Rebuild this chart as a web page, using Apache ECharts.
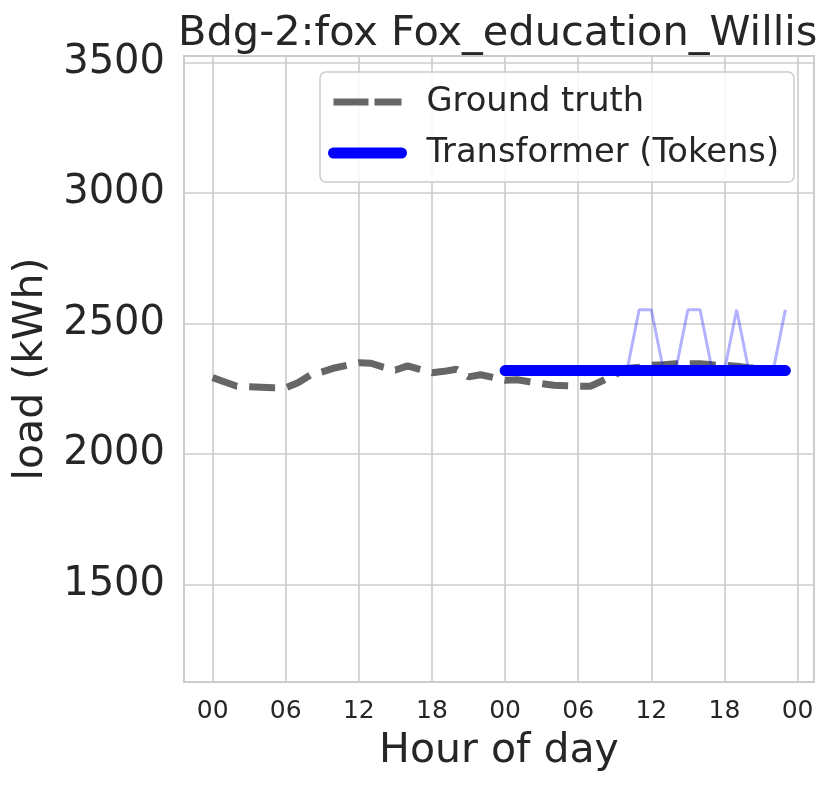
<!DOCTYPE html>
<html>
<head>
<meta charset="utf-8">
<script src="https://cdn.jsdelivr.net/npm/echarts@6/dist/echarts.min.js"></script>
<style>
    html, body { margin: 0; padding: 0; background: #fff; }
    #chart { width: 831px; height: 786px; }
</style>
</head>
<body>
<div id="chart"></div>
<script>
// hours since the start of the 2-day window
const hours = [
    0, 1, 2, 3, 4, 5, 6, 7, 8, 9, 10, 11, 12, 13, 14, 15, 16, 17, 18, 19, 20, 21, 22, 23,
    24, 25, 26, 27, 28, 29, 30, 31, 32, 33, 34, 35, 36, 37, 38, 39, 40, 41, 42, 43, 44, 45, 46, 47
]
const groundTruth = [
    2293, 2276, 2260, 2258, 2256, 2254, 2254, 2273, 2302, 2315, 2330, 2340,
    2350, 2348, 2333, 2322, 2338, 2325, 2312, 2317, 2325, 2296, 2304, 2294,
    2283, 2285, 2277, 2270, 2264, 2262, 2260, 2260, 2281, 2304, 2328, 2333,
    2340, 2342, 2346, 2346, 2346, 2342, 2340, 2337, 2331, 2327, 2321, 2320
]
// forecast covers the second day only
const forecastHours = hours.slice(24)
const transformerTokens = [
    2320, 2320, 2320, 2320, 2320, 2320, 2320, 2320, 2320, 2320, 2320, 2320,
    2320, 2320, 2320, 2320, 2320, 2320, 2320, 2320, 2320, 2320, 2320, 2320
]
const tokenSample = [
    2320, 2320, 2320, 2320, 2320, 2320, 2320, 2320, 2320, 2320, 2320, 2553,
    2553, 2320, 2320, 2553, 2553, 2320, 2320, 2553, 2320, 2320, 2320, 2553
]
const xTicks = [0, 6, 12, 18, 24, 30, 36, 42, 48]
const yTicks = [1500, 2000, 2500, 3000, 3500]

const pairs = (xs, ys) => xs.map((x, i) => [x, ys[i]])
const font = 'DejaVu Sans'
const ink = '#262626'
const gridGray = '#cccccc'
const gtColor = '#666666'
const tokColor = '#0000ff'

const chart = echarts.init(document.getElementById('chart'))

chart.setOption({
    animation: false,
    title: {
        text: 'Bdg-2:fox Fox_education_Willis',
        left: 173,
        top: 8,
        textStyle: { fontFamily: font, fontSize: 41.5, fontWeight: 'normal', color: ink }
    },
    legend: {
        orient: 'vertical',
        left: 320,
        top: 72,
        padding: [12, 15, 11, 8],
        itemWidth: 68,
        itemHeight: 14,
        itemGap: 15,
        backgroundColor: 'rgba(255,255,255,0.85)',
        borderColor: gridGray,
        borderWidth: 1.5,
        borderRadius: 6,
        itemStyle: { opacity: 0 },
        textStyle: {
            fontFamily: font,
            fontSize: 33.7,
            color: ink,
            lineHeight: 36,
            padding: [0, 0, 0, 20]
        },
        data: [
            {
                name: 'Ground truth',
                itemStyle: { opacity: 0 },
                lineStyle: { color: gtColor, width: 7, type: [35, 6], cap: 'butt', opacity: 1 }
            },
            {
                name: 'Transformer (Tokens)',
                itemStyle: { opacity: 0 },
                lineStyle: { color: tokColor, width: 11, cap: 'round', opacity: 1 }
            }
        ]
    },
    grid: {
        left: 184,
        top: 56,
        width: 630,
        height: 626,
        outerBoundsMode: 'none',
        containLabel: false,
        show: true,
        borderColor: gridGray,
        borderWidth: 2,
        backgroundColor: '#fff'
    },
    xAxis: {
        type: 'value',
        min: -2.35,
        max: 49.35,
        name: 'Hour of day',
        nameLocation: 'middle',
        nameGap: 49,
        nameTextStyle: { fontFamily: font, fontSize: 41, color: ink },
        axisLine: { show: false },
        axisTick: { show: false, customValues: xTicks },
        axisLabel: {
            customValues: xTicks,
            margin: 17,
            fontFamily: font,
            fontSize: 25,
            color: ink,
            formatter: v => String(v % 24).padStart(2, '0')
        },
        splitLine: { show: true, lineStyle: { color: gridGray, width: 1.6 } }
    },
    yAxis: {
        type: 'value',
        min: 1127,
        max: 3525,
        name: 'load (kWh)',
        nameLocation: 'middle',
        nameGap: 132,
        nameTextStyle: { fontFamily: font, fontSize: 41, color: ink },
        axisLine: { show: false },
        axisTick: { show: false, customValues: yTicks },
        axisLabel: {
            customValues: yTicks,
            margin: 19,
            fontFamily: font,
            fontSize: 40,
            color: ink,
            padding: [4, 0, 0, 0],
            formatter: v => String(v)
        },
        splitLine: { show: true, lineStyle: { color: gridGray, width: 1.6 } }
    },
    series: [
        {
            name: 'Ground truth',
            type: 'line',
            data: pairs(hours, groundTruth),
            symbol: 'none',
            color: gtColor,
            lineStyle: { width: 7, type: [26, 12], cap: 'butt' }
        },
        {
            name: 'Token sample',
            type: 'line',
            data: pairs(forecastHours, tokenSample),
            symbol: 'none',
            color: 'rgba(0,0,255,0.3)',
            lineStyle: { width: 3 }
        },
        {
            name: 'Transformer (Tokens)',
            type: 'line',
            data: pairs(forecastHours, transformerTokens),
            symbol: 'none',
            color: tokColor,
            lineStyle: { width: 11, cap: 'round' }
        }
    ]
})
</script>
</body>
</html>
